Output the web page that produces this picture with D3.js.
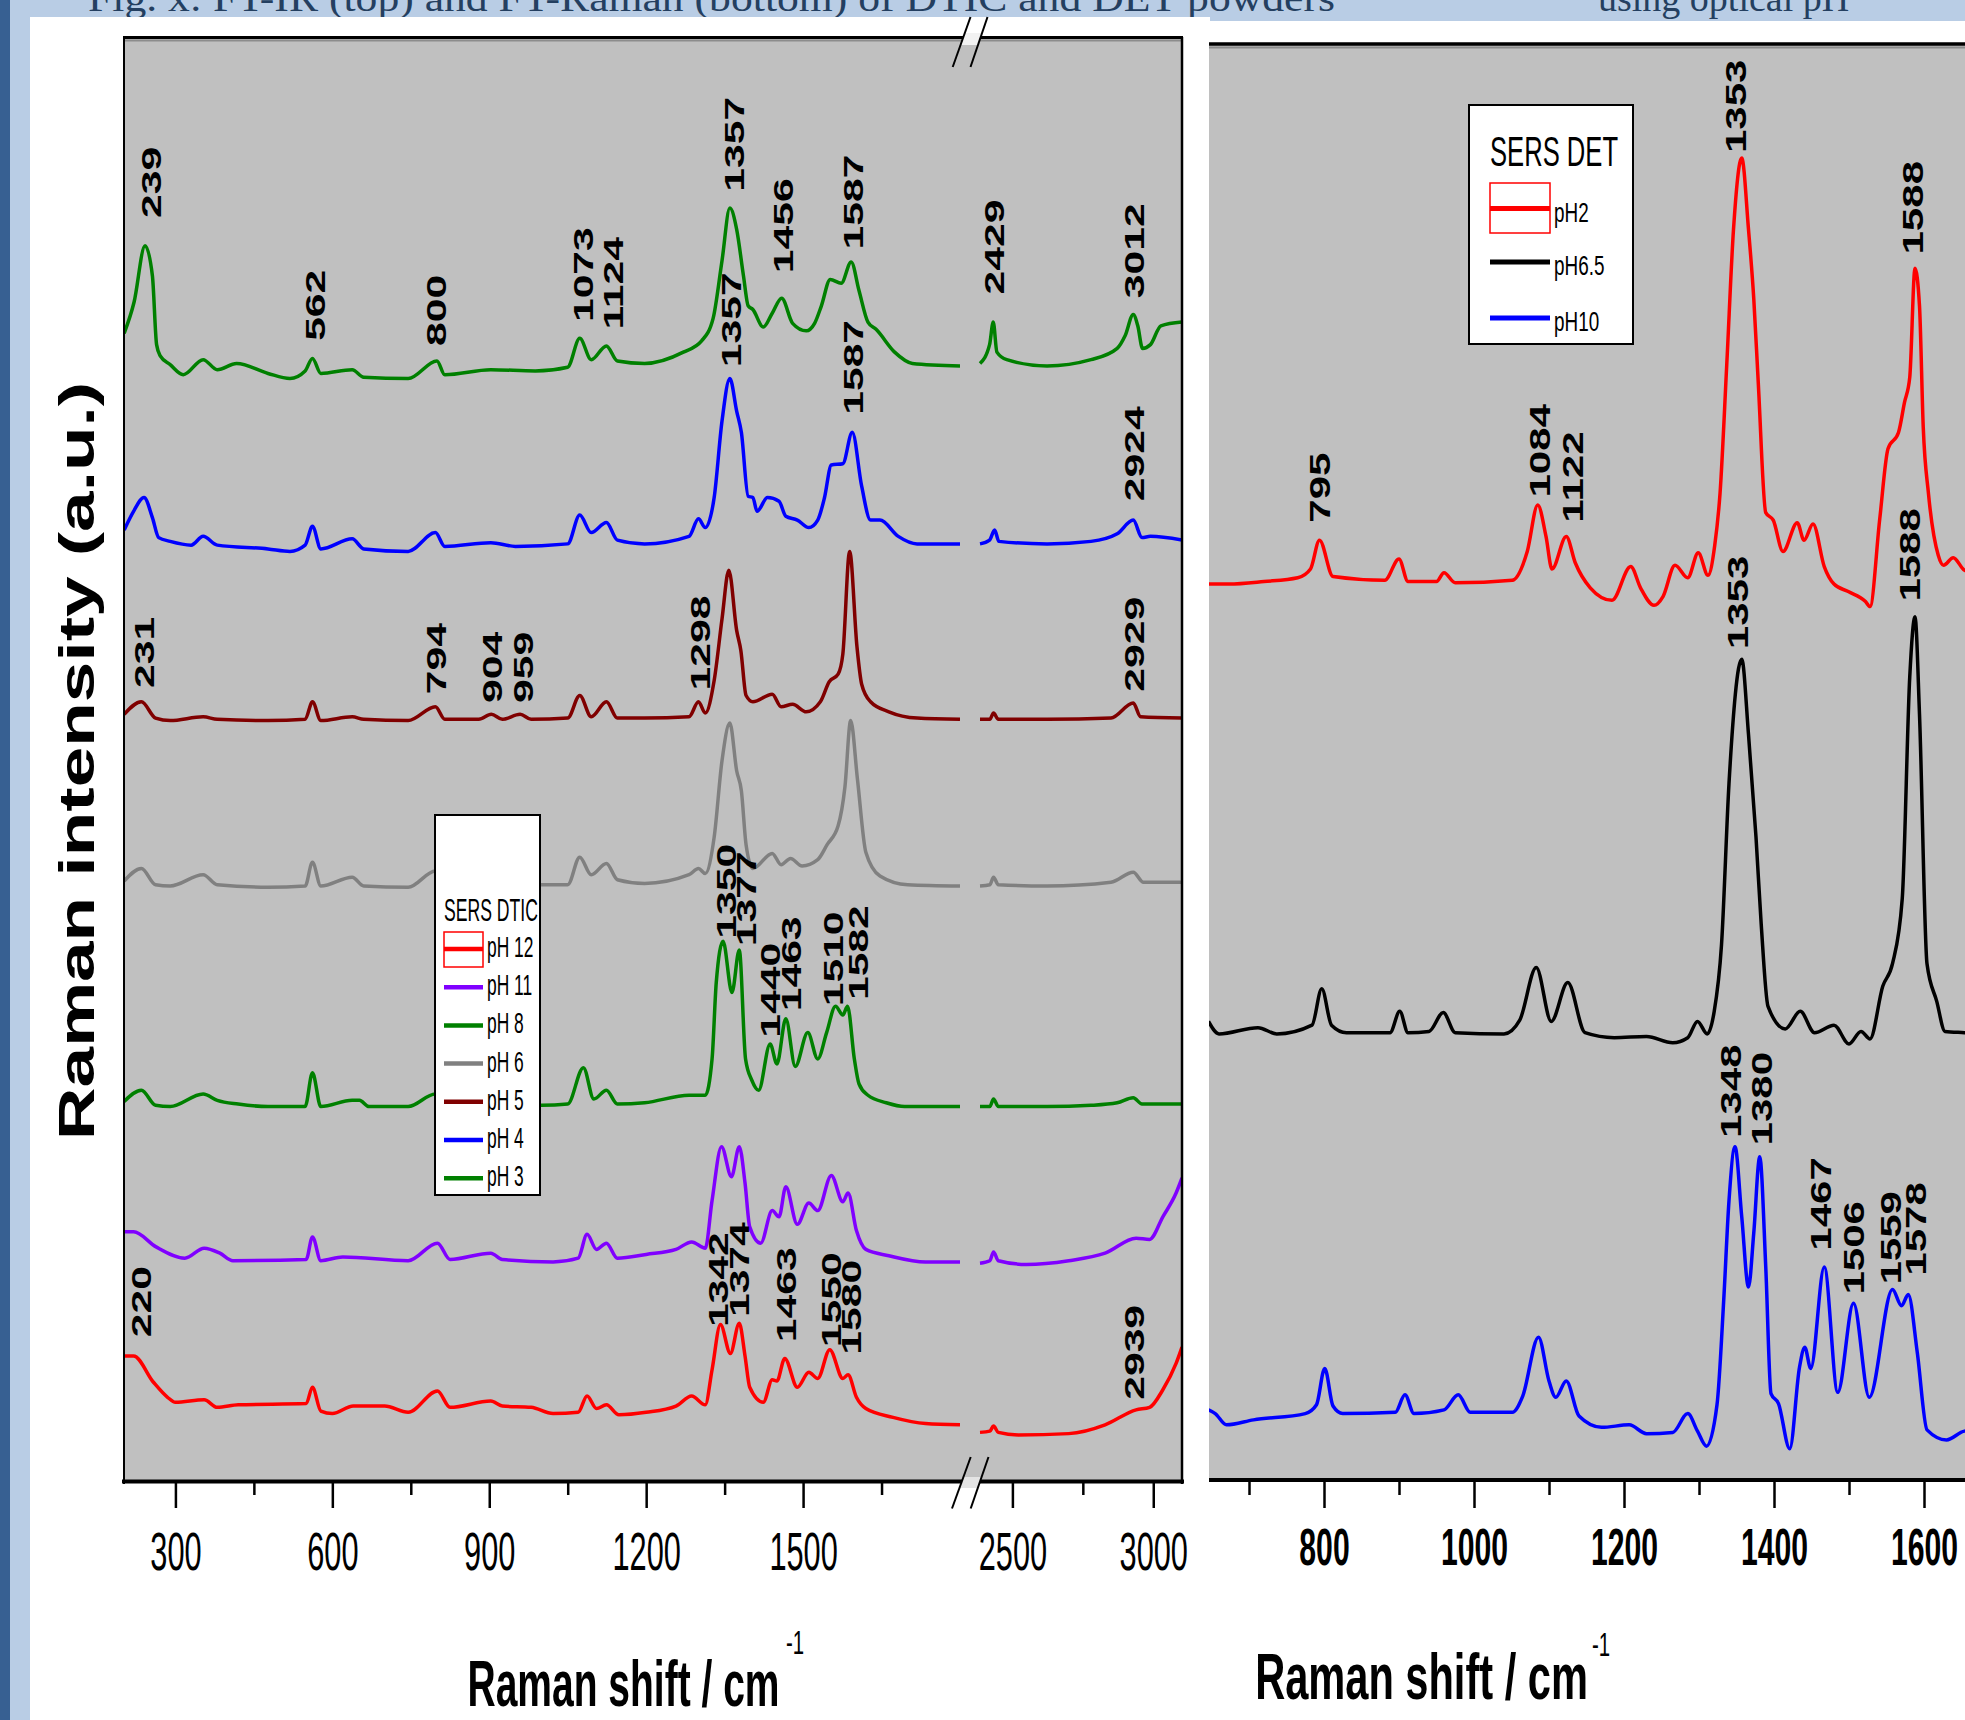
<!doctype html>
<html lang="en">
<head>
    <title>SERS DTIC / DET</title>
    <script src="https://d3js.org/d3.v7.min.js"></script>
    <style>
        body { margin: 0; overflow: hidden; background: #b9cde5; }
        svg { font-family: "Liberation Sans", Arial, sans-serif; }
    </style>
</head>
<body>
<script>
// left panel (SERS DTIC): [wavenumber, intensity a.u.], two pieces either side of the axis break
var pH3_a = [[202,917],[221,942],[242,987],[256,963],[264,908],[271,899],[290,892],[315,884],[353,896],[380,888],[417,893],[477,885],[519,881],[548,887],[562,897],[578,885],[638,888],[660,882],[745,881],[800,895],[815,884],[903,888],[988,887],[1050,890],[1073,913],[1095,896],[1124,907],[1145,895],[1197,893],[1271,902],[1306,911],[1328,929],[1345,975],[1360,1017],[1373,1000],[1386,963],[1395,939],[1404,936],[1424,922],[1441,933],[1459,945],[1480,925],[1506,919],[1522,925],[1535,939],[1552,960],[1573,957],[1592,974],[1607,951],[1624,926],[1640,920],[1675,902],[1709,893],[1800,891]];
var pH3_b = [[2385,893],[2419,908],[2432,926],[2445,902],[2480,896],[2623,891],[2779,896],[2872,905],[2900,915],[2929,932],[2945,923],[2962,905],[2990,908],[3027,923],[3102,926]];

var pH4_a = [[202,760],[220,775],[240,786],[256,770],[268,754],[290,751],[330,748],[353,755],[380,748],[477,745],[519,743],[548,748],[562,763],[578,745],[638,753],[660,745],[745,743],[797,758],[815,747],[903,750],[950,747],[1050,749],[1073,772],[1095,758],[1124,766],[1145,752],[1197,749],[1282,755],[1300,769],[1313,762],[1330,786],[1345,847],[1360,881],[1373,855],[1382,838],[1395,787],[1404,786],[1412,775],[1432,786],[1454,783],[1467,771],[1489,768],[1511,762],[1528,768],[1541,786],[1554,812],[1576,813],[1594,838],[1612,795],[1629,768],[1647,768],[1682,755],[1718,749],[1800,749]];
var pH4_b = [[2385,749],[2419,752],[2437,760],[2452,751],[2623,749],[2779,751],[2872,757],[2929,768],[2960,754],[2990,755],[3102,752]];

var pH5_a = [[202,613],[235,623],[262,610],[290,608],[353,611],[380,609],[477,608],[548,609],[562,623],[578,608],[638,611],[660,609],[745,608],[797,619],[815,609],[880,609],[904,613],[925,609],[959,613],[980,609],[1050,610],[1073,628],[1095,611],[1124,623],[1145,610],[1197,610],[1282,611],[1300,623],[1313,614],[1330,640],[1345,689],[1358,728],[1373,680],[1381,664],[1391,628],[1404,623],[1441,629],[1458,619],[1480,621],[1506,615],[1533,623],[1550,639],[1567,645],[1576,661],[1589,743],[1603,667],[1612,637],[1629,623],[1664,615],[1718,610],[1800,609]];
var pH5_b = [[2385,609],[2420,609],[2433,614],[2450,609],[2623,609],[2850,610],[2929,622],[2955,611],[3102,610]];

var pH6_a = [[202,480],[235,490],[262,477],[290,476],[353,485],[380,477],[477,475],[548,476],[562,495],[578,476],[638,483],[660,476],[745,475],[797,488],[815,477],[900,476],[1000,477],[1050,477],[1073,499],[1095,485],[1124,494],[1145,481],[1197,478],[1282,485],[1300,490],[1313,486],[1330,515],[1345,576],[1360,606],[1373,568],[1382,552],[1391,509],[1404,490],[1441,502],[1458,493],[1476,498],[1498,492],[1528,497],[1546,509],[1567,524],[1580,555],[1591,608],[1604,561],[1620,503],[1647,484],[1700,477],[1800,476]];
var pH6_b = [[2385,476],[2420,477],[2433,483],[2450,477],[2623,476],[2850,479],[2929,487],[2965,479],[3102,479]];

var pH8_a = [[202,304],[235,313],[262,301],[290,300],[353,310],[380,305],[420,302],[477,300],[548,300],[562,327],[578,300],[638,305],[652,305],[670,300],[745,300],[797,310],[815,301],[900,301],[1000,301],[1050,302],[1080,331],[1100,306],[1124,313],[1145,302],[1197,303],[1282,309],[1313,309],[1326,338],[1334,399],[1347,432],[1364,391],[1378,425],[1390,338],[1402,321],[1415,313],[1437,350],[1450,334],[1467,370],[1485,332],[1509,359],[1528,338],[1545,359],[1562,380],[1576,373],[1585,380],[1598,338],[1607,318],[1624,309],[1659,303],[1694,300],[1800,300]];
var pH8_b = [[2385,300],[2420,300],[2433,306],[2450,300],[2623,300],[2779,301],[2872,303],[2929,307],[2960,302],[3102,302]];

var pH11_a = [[202,200],[220,200],[263,188],[318,179],[355,187],[385,183],[410,177],[550,178],[562,196],[578,177],[620,180],[745,177],[801,191],[825,178],[903,183],[925,178],[1022,176],[1070,179],[1087,198],[1105,186],[1124,191],[1145,179],[1200,182],[1257,186],[1287,192],[1313,187],[1326,225],[1344,268],[1363,244],[1378,268],[1389,239],[1398,204],[1419,191],[1441,217],[1454,212],[1467,236],[1489,206],[1511,223],[1528,217],[1554,245],[1576,224],[1586,231],[1602,201],[1620,186],[1664,181],[1734,176],[1800,176]];
var pH11_b = [[2385,175],[2420,177],[2433,184],[2450,177],[2550,174],[2700,177],[2829,183],[2939,195],[2987,194],[3034,212],[3081,231],[3102,243]];

var pH12_a = [[202,101],[220,101],[258,80],[285,68],[300,64],[355,66],[380,60],[420,62],[550,63],[562,76],[578,57],[600,55],[640,61],[700,61],[745,56],[801,73],[825,60],[903,65],[925,61],[980,60],[1022,55],[1070,56],[1087,69],[1105,59],[1124,62],[1148,54],[1200,56],[1257,61],[1287,69],[1313,62],[1326,90],[1342,126],[1361,103],[1378,127],[1389,101],[1398,76],[1424,64],[1441,82],[1450,81],[1465,99],[1489,76],[1511,88],[1528,83],[1551,106],[1576,83],[1586,86],[1602,68],[1620,59],[1672,52],[1734,47],[1800,46]];
var pH12_b = [[2385,40],[2420,41],[2433,45],[2450,40],[2520,38],[2700,39],[2829,46],[2939,58],[2987,60],[3034,74],[3081,95],[3102,108]];

// right panel (SERS DET)
var det_pH2 = [[646,715],[673,715],[720,717],[765,720],[782,727],[794,750],[812,721],[881,718],[900,735],[912,717],[950,717],[960,724],[975,716],[1051,718],[1071,741],[1085,778],[1096,753],[1104,727],[1123,753],[1135,732],[1155,712],[1184,702],[1209,729],[1222,712],[1240,698],[1252,705],[1268,730],[1285,720],[1299,740],[1312,722],[1321,746],[1328,787],[1337,890],[1346,998],[1357,1055],[1366,998],[1373,943],[1379,876],[1389,772],[1399,766],[1412,741],[1431,764],[1440,750],[1452,763],[1467,729],[1480,715],[1499,709],[1522,701],[1528,697],[1541,767],[1552,823],[1566,836],[1574,860],[1581,880],[1588,967],[1594,937],[1599,840],[1606,787],[1619,738],[1626,730],[1639,736],[1654,726],[1680,722]];
var det_pH65 = [[646,366],[660,356],[712,361],[737,356],[784,363],[797,392],[810,363],[830,357],[888,357],[901,374],[912,357],[940,358],[959,373],[975,357],[1040,356],[1061,367],[1083,409],[1103,366],[1125,397],[1148,357],[1187,353],[1230,354],[1265,349],[1285,353],[1298,366],[1311,356],[1320,373],[1330,427],[1340,556],[1357,655],[1366,595],[1376,513],[1383,443],[1392,378],[1415,360],[1435,374],[1454,357],[1480,363],[1500,348],[1516,358],[1528,352],[1545,394],[1558,412],[1571,464],[1581,641],[1588,689],[1594,611],[1604,412],[1617,382],[1628,358],[1654,357],[1680,356]];
var det_pH10 = [[646,56],[655,53],[670,44],[706,48],[775,53],[790,60],[801,89],[812,59],[825,53],[895,54],[908,68],[920,53],[960,56],[979,68],[995,54],[1051,54],[1065,67],[1086,114],[1100,79],[1109,66],[1123,79],[1140,51],[1170,42],[1207,44],[1230,37],[1265,38],[1285,53],[1298,39],[1310,27],[1324,60],[1333,144],[1340,223],[1348,266],[1357,210],[1366,154],[1373,197],[1381,258],[1389,170],[1396,69],[1406,61],[1421,25],[1434,90],[1441,106],[1449,89],[1467,170],[1485,70],[1506,141],[1527,66],[1558,152],[1570,139],[1579,148],[1591,102],[1604,40],[1630,32],[1654,39],[1680,40]];

// peak labels: [text, wavenumber where drawn, intensity at label foot]
var dticLabels = [["239",254,1009],["562",567,911],["800",798,907],["1073",1079,926],["1124",1137,920],
    ["1357",1368,1030],["1456",1463,965],["1587",1596,984],["2429",2436,948],["3012",2931,945],
    ["1357",1362,890],["1587",1596,852],["2924",2931,783],
    ["231",240,634],["794",798,629],["904",906,622],["959",965,622],["1298",1304,632],["2929",2934,631],
    ["1350",1354,434],["1377",1392,428],["1440",1437,355],["1463",1477,376],["1510",1558,380],["1582",1605,385],
    ["220",235,116],["1342",1338,124],["1374",1378,132],["1463",1467,112],["1550",1553,108],["1580",1592,102],["2939",2934,66]];
var detLabels = [["795",794,764],["1084",1087,784],["1122",1132,764],["1353",1349,1059],["1588",1585,978],
    ["1353",1352,663],["1588",1581,701],
    ["1348",1342,273],["1380",1384,267],["1467",1462,183],["1506",1506,148],["1559",1555,156],["1578",1589,163]];

var dticNames = ["pH 12", "pH 11", "pH 8", "pH 6", "pH 5", "pH 4", "pH 3"];
var dticColors = ["#ff0000", "#8000ff", "#008000", "#808080", "#800000", "#0000ff", "#008000"];
var detNames = ["pH2", "pH6.5", "pH10"];
var detColors = ["#ff0000", "#000000", "#0000ff"];

var ticksL1 = [300, 600, 900, 1200, 1500], minorL1 = [450, 750, 1050, 1350, 1650];
var ticksL2 = [2500, 3000], minorL2 = [2750];
var ticksR = [800, 1000, 1200, 1400, 1600], minorR = [700, 900, 1100, 1300, 1500, 1700];

var W = 1965, H = 1720;

var x1 = d3.scaleLinear().domain([201.7, 1800]).range([124, 960]);
var x2 = d3.scaleLinear().domain([2385, 3102]).range([980, 1182]);
var yL = d3.scaleLinear().domain([0, 1153]).range([1482.5, 37.6]);
var xR = d3.scaleLinear().domain([800, 1600]).range([1324, 1924]);
var yR = d3.scaleLinear().domain([0, 1146]).range([1480, 44]);

var svg = d3.select("body").append("svg")
    .attr("width", W)
    .attr("height", H);

// narrow text: stretched the way the original picture is
function ntext(parent, str, x, y, size, sx, weight, anchor) {
    return parent.append("text")
        .attr("transform", "translate(" + x + "," + y + ") scale(" + sx + ",1)")
        .attr("text-anchor", anchor || "start")
        .attr("font-size", size)
        .attr("font-weight", weight || "normal")
        .text(str);
}

// slide background
svg.append("rect").attr("width", W).attr("height", H).attr("fill", "#b9cde5");
svg.append("rect").attr("width", 10).attr("height", H).attr("fill", "#376092");
svg.append("text").attr("x", 88).attr("y", 11)
    .attr("font-family", "'Liberation Serif', serif").attr("font-size", 38).attr("fill", "#243f60")
    .attr("textLength", 1247).attr("lengthAdjust", "spacingAndGlyphs")
    .text("Fig. x: FT-IR (top) and FT-Raman (bottom) of DTIC and DET powders");
svg.append("text").attr("x", 1598).attr("y", 11)
    .attr("font-family", "'Liberation Serif', serif").attr("font-size", 38).attr("fill", "#243f60")
    .text("using optical pH");
svg.append("rect").attr("x", 30).attr("y", 17).attr("width", 1180).attr("height", H).attr("fill", "#fff");
svg.append("rect").attr("x", 1209).attr("y", 21).attr("width", W).attr("height", H).attr("fill", "#fff");

// plot areas
svg.append("rect").attr("x", 124).attr("y", 37).attr("width", 1058).attr("height", 1446).attr("fill", "#c0c0c0");
svg.append("rect").attr("x", 1209).attr("y", 44).attr("width", 770).attr("height", 1437).attr("fill", "#c0c0c0");

var defs = svg.append("defs");
defs.append("clipPath").attr("id", "clipL").append("rect")
    .attr("x", 124).attr("y", 38).attr("width", 1058).attr("height", 1444);
defs.append("clipPath").attr("id", "clipR").append("rect")
    .attr("x", 1209).attr("y", 46).attr("width", 770).attr("height", 1433);

var line1 = d3.line().x(function(d) { return x1(d[0]); }).y(function(d) { return yL(d[1]); }).curve(d3.curveMonotoneX);
var line2 = d3.line().x(function(d) { return x2(d[0]); }).y(function(d) { return yL(d[1]); }).curve(d3.curveMonotoneX);
var lineR = d3.line().x(function(d) { return xR(d[0]); }).y(function(d) { return yR(d[1]); }).curve(d3.curveMonotoneX);

var leftTraces = [
    [pH3_a, pH3_b, "#008000"],
    [pH4_a, pH4_b, "#0000ff"],
    [pH5_a, pH5_b, "#800000"],
    [pH6_a, pH6_b, "#808080"],
    [pH8_a, pH8_b, "#008000"],
    [pH11_a, pH11_b, "#8000ff"],
    [pH12_a, pH12_b, "#ff0000"]
];

var gL = svg.append("g").attr("clip-path", "url(#clipL)");
leftTraces.forEach(function(t) {
    gL.append("path").attr("d", line1(t[0])).attr("fill", "none").attr("stroke", t[2])
        .attr("stroke-width", 3.5).attr("stroke-linejoin", "round");
    gL.append("path").attr("d", line2(t[1])).attr("fill", "none").attr("stroke", t[2])
        .attr("stroke-width", 3.5).attr("stroke-linejoin", "round");
});

var gR = svg.append("g").attr("clip-path", "url(#clipR)");
[[det_pH2, "#ff0000"], [det_pH65, "#000000"], [det_pH10, "#0000ff"]].forEach(function(t) {
    gR.append("path").attr("d", lineR(t[0])).attr("fill", "none").attr("stroke", t[1])
        .attr("stroke-width", 3.5).attr("stroke-linejoin", "round");
});

// peak labels, written upwards
function peakLabel(parent, d, xpx, ypx, size, sx) {
    parent.append("text")
        .attr("transform", "translate(" + xpx + "," + ypx + ") rotate(-90) scale(" + sx + ",1)")
        .attr("dy", "0.36em")
        .attr("font-size", size)
        .attr("font-weight", "bold")
        .text(d);
}
dticLabels.forEach(function(d) {
    var xs = d[1] > 2000 ? x2(d[1]) : x1(d[1]);
    peakLabel(svg, d[0], xs, yL(d[2]), 27, 1.58);
});
detLabels.forEach(function(d) {
    peakLabel(svg, d[0], xR(d[1]), yR(d[2]), 29, 1.45);
});

// legends
var lg = svg.append("g");
lg.append("rect").attr("x", 435).attr("y", 815).attr("width", 105).attr("height", 380)
    .attr("fill", "#fff").attr("stroke", "#000").attr("stroke-width", 2);
ntext(lg, "SERS DTIC", 444, 921, 32, 0.55);
dticNames.forEach(function(name, i) {
    var cy = 949 + i * 38.2;
    lg.append("line").attr("x1", 444).attr("x2", 483).attr("y1", cy).attr("y2", cy)
        .attr("stroke", dticColors[i]).attr("stroke-width", 4.5);
    ntext(lg, name, 487, cy + 8, 29, 0.6);
});
lg.append("rect").attr("x", 444).attr("y", 932).attr("width", 39).attr("height", 35)
    .attr("fill", "none").attr("stroke", "#ff0000").attr("stroke-width", 1.5);

var rg = svg.append("g");
rg.append("rect").attr("x", 1469).attr("y", 105).attr("width", 164).attr("height", 239)
    .attr("fill", "#fff").attr("stroke", "#000").attr("stroke-width", 2);
ntext(rg, "SERS DET", 1490, 166, 42, 0.61);
[208.6, 262, 318].forEach(function(cy, i) {
    rg.append("line").attr("x1", 1490).attr("x2", 1550).attr("y1", cy).attr("y2", cy)
        .attr("stroke", detColors[i]).attr("stroke-width", 5);
    ntext(rg, detNames[i], 1554, cy + 13, 27, 0.7);
});
rg.append("rect").attr("x", 1490).attr("y", 183).attr("width", 60).attr("height", 50)
    .attr("fill", "none").attr("stroke", "#ff0000").attr("stroke-width", 1.5);

// frames
svg.append("line").attr("x1", 124).attr("x2", 1183).attr("y1", 40.5).attr("y2", 40.5).attr("stroke", "#8c8c8c").attr("stroke-width", 2);
svg.append("line").attr("x1", 123).attr("x2", 1183).attr("y1", 37.5).attr("y2", 37.5).attr("stroke", "#000").attr("stroke-width", 3);
svg.append("line").attr("x1", 124).attr("x2", 124).attr("y1", 37).attr("y2", 1484).attr("stroke", "#000").attr("stroke-width", 2);
svg.append("line").attr("x1", 1182).attr("x2", 1182).attr("y1", 37).attr("y2", 1484).attr("stroke", "#000").attr("stroke-width", 2.5);
svg.append("line").attr("x1", 122).attr("x2", 1184).attr("y1", 1481.5).attr("y2", 1481.5).attr("stroke", "#000").attr("stroke-width", 4);
svg.append("line").attr("x1", 1209).attr("x2", W).attr("y1", 47.5).attr("y2", 47.5).attr("stroke", "#8c8c8c").attr("stroke-width", 2);
svg.append("line").attr("x1", 1209).attr("x2", W).attr("y1", 44).attr("y2", 44).attr("stroke", "#000").attr("stroke-width", 3.5);
svg.append("line").attr("x1", 1209).attr("x2", W).attr("y1", 1480).attr("y2", 1480).attr("stroke", "#000").attr("stroke-width", 4);

// axes
function styleAxis(g, fontSize, weight, sx, ty) {
    g.select(".domain").remove();
    g.attr("font-family", "'Liberation Sans', Arial, sans-serif").attr("font-size", fontSize).attr("font-weight", weight);
    g.selectAll("line").attr("stroke", "#000").attr("stroke-width", 2.5);
    g.selectAll("text").attr("dy", null).attr("y", ty).attr("fill", "#000")
        .attr("transform", "scale(" + sx + ",1)");
}
var axL1 = svg.append("g").attr("transform", "translate(0,1483)")
    .call(d3.axisBottom(x1).tickValues(ticksL1).tickSize(25).tickFormat(d3.format("d")));
styleAxis(axL1, 53, "normal", 0.58, 87);
var axL2 = svg.append("g").attr("transform", "translate(0,1483)")
    .call(d3.axisBottom(x2).tickValues(ticksL2).tickSize(25).tickFormat(d3.format("d")));
styleAxis(axL2, 53, "normal", 0.58, 87);
var axL1m = svg.append("g").attr("transform", "translate(0,1483)")
    .call(d3.axisBottom(x1).tickValues(minorL1).tickSize(12).tickFormat(""));
styleAxis(axL1m, 10, "normal", 1, 0);
var axL2m = svg.append("g").attr("transform", "translate(0,1483)")
    .call(d3.axisBottom(x2).tickValues(minorL2).tickSize(12).tickFormat(""));
styleAxis(axL2m, 10, "normal", 1, 0);
var axR = svg.append("g").attr("transform", "translate(0,1481)")
    .call(d3.axisBottom(xR).tickValues(ticksR).tickSize(27).tickFormat(d3.format("d")));
styleAxis(axR, 52, "bold", 0.58, 84);
var axRm = svg.append("g").attr("transform", "translate(0,1481)")
    .call(d3.axisBottom(xR).tickValues(minorR).tickSize(14).tickFormat(""));
styleAxis(axRm, 10, "normal", 1, 0);

// axis break marks
svg.append("polygon").attr("points", "964.4,33 981.7,33 977.6,45 960.2,45").attr("fill", "#f2f2f2");
svg.append("polygon").attr("points", "963.4,1477 981.6,1477 978.1,1488 959.8,1488").attr("fill", "#e4e4e4");
[[970.5, 17, 952.7, 67], [987.5, 17, 970.5, 67], [970.7, 1457, 952, 1508.5], [988.5, 1457, 970.7, 1508.5]].forEach(function(s) {
    svg.append("line").attr("x1", s[0]).attr("y1", s[1]).attr("x2", s[2]).attr("y2", s[3])
        .attr("stroke", "#000").attr("stroke-width", 2);
});

// axis titles
ntext(svg, "Raman shift / cm", 623.5, 1706, 65, 0.6, "bold", "middle");
ntext(svg, "-1", 786, 1654, 34, 0.6, "normal", "start");
ntext(svg, "Raman shift / cm", 1421.5, 1699, 65, 0.64, "bold", "middle");
ntext(svg, "-1", 1592, 1656, 34, 0.6, "normal", "start");

svg.append("text")
    .attr("transform", "translate(94,761) rotate(-90) scale(1.46,1)")
    .attr("text-anchor", "middle")
    .attr("font-size", 50)
    .attr("font-weight", "bold")
    .text("Raman intensity (a.u.)");
</script>
</body>
</html>
